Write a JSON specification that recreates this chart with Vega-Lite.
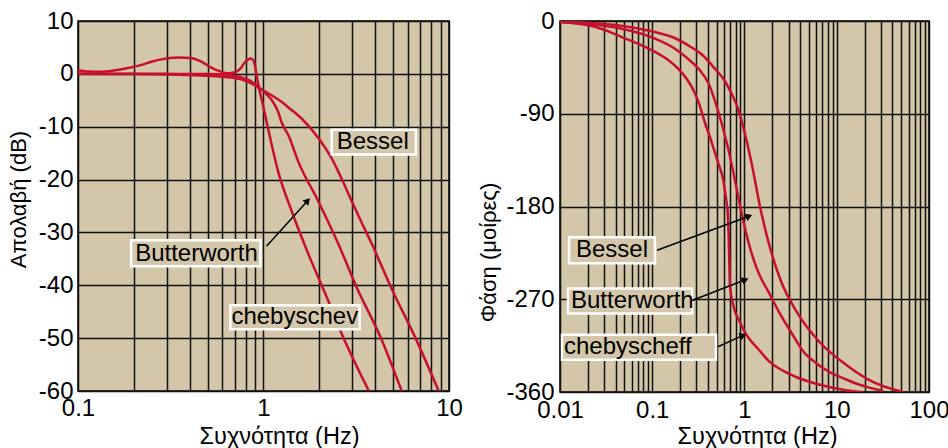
{
  "$schema": "https://vega.github.io/schema/vega-lite/v6.json",
  "padding": {"left": 6, "top": 8, "right": 0, "bottom": 0},
  "background": "white",
  "spacing": 12,
  "config": {
    "font": "Liberation Sans",
    "view": {"fill": "#d3c6a9", "stroke": "#000", "strokeWidth": 1.5},
    "axis": {
      "grid": true, "gridColor": "#111", "gridOpacity": 1, "gridWidth": 1.5,
      "domain": false, "ticks": false, "tickSize": 0,
      "labelFontSize": 24, "labelColor": "#000", "labelFont": "Liberation Sans",
      "titleFontSize": 22, "titleFontWeight": "normal", "titleColor": "#000", "titleFont": "Liberation Sans",
      "labelFlush": false, "labelOverlap": false
    },
    "axisX": {"titleFontSize": 23.5}
  },
  "datasets": {
    "mag": [
      {"curve": "Chebyshev", "f": 0.1, "db": 0.7},
      {"curve": "Chebyshev", "f": 0.115, "db": 0.45},
      {"curve": "Chebyshev", "f": 0.13, "db": 0.4},
      {"curve": "Chebyshev", "f": 0.16, "db": 0.7},
      {"curve": "Chebyshev", "f": 0.186, "db": 1.1},
      {"curve": "Chebyshev", "f": 0.22, "db": 1.7},
      {"curve": "Chebyshev", "f": 0.248, "db": 2.3},
      {"curve": "Chebyshev", "f": 0.3, "db": 2.9},
      {"curve": "Chebyshev", "f": 0.347, "db": 3.1},
      {"curve": "Chebyshev", "f": 0.408, "db": 3.0},
      {"curve": "Chebyshev", "f": 0.45, "db": 2.5},
      {"curve": "Chebyshev", "f": 0.485, "db": 1.9},
      {"curve": "Chebyshev", "f": 0.53, "db": 1.1},
      {"curve": "Chebyshev", "f": 0.57, "db": 0.6},
      {"curve": "Chebyshev", "f": 0.65, "db": 0.1},
      {"curve": "Chebyshev", "f": 0.7, "db": 0.3},
      {"curve": "Chebyshev", "f": 0.75, "db": 1.0},
      {"curve": "Chebyshev", "f": 0.8, "db": 2.3},
      {"curve": "Chebyshev", "f": 0.85, "db": 2.9},
      {"curve": "Chebyshev", "f": 0.88, "db": 2.6},
      {"curve": "Chebyshev", "f": 0.9, "db": 1.6},
      {"curve": "Chebyshev", "f": 0.92, "db": -0.5},
      {"curve": "Chebyshev", "f": 0.95, "db": -3},
      {"curve": "Chebyshev", "f": 0.98, "db": -5},
      {"curve": "Chebyshev", "f": 1.04, "db": -9.1},
      {"curve": "Chebyshev", "f": 1.1, "db": -13},
      {"curve": "Chebyshev", "f": 1.2, "db": -18.5},
      {"curve": "Chebyshev", "f": 1.42, "db": -26},
      {"curve": "Chebyshev", "f": 1.75, "db": -34.2},
      {"curve": "Chebyshev", "f": 2.16, "db": -41.7},
      {"curve": "Chebyshev", "f": 2.65, "db": -49.3},
      {"curve": "Chebyshev", "f": 3.7, "db": -60},
      {"curve": "Butterworth", "f": 0.1, "db": 0},
      {"curve": "Butterworth", "f": 0.3, "db": 0},
      {"curve": "Butterworth", "f": 0.5, "db": -0.05},
      {"curve": "Butterworth", "f": 0.65, "db": -0.2},
      {"curve": "Butterworth", "f": 0.75, "db": -0.6},
      {"curve": "Butterworth", "f": 0.85, "db": -1.3},
      {"curve": "Butterworth", "f": 0.94, "db": -2.5},
      {"curve": "Butterworth", "f": 1.02, "db": -3.6},
      {"curve": "Butterworth", "f": 1.11, "db": -5},
      {"curve": "Butterworth", "f": 1.2, "db": -7.2},
      {"curve": "Butterworth", "f": 1.25, "db": -9.1},
      {"curve": "Butterworth", "f": 1.37, "db": -11.8},
      {"curve": "Butterworth", "f": 1.54, "db": -16.6},
      {"curve": "Butterworth", "f": 1.98, "db": -24.2},
      {"curve": "Butterworth", "f": 2.54, "db": -32.3},
      {"curve": "Butterworth", "f": 3.2, "db": -40.6},
      {"curve": "Butterworth", "f": 4.3, "db": -50},
      {"curve": "Butterworth", "f": 5.56, "db": -60},
      {"curve": "Bessel", "f": 0.1, "db": 0},
      {"curve": "Bessel", "f": 0.2, "db": -0.05},
      {"curve": "Bessel", "f": 0.3, "db": -0.1},
      {"curve": "Bessel", "f": 0.4, "db": -0.2},
      {"curve": "Bessel", "f": 0.5, "db": -0.35},
      {"curve": "Bessel", "f": 0.6, "db": -0.55},
      {"curve": "Bessel", "f": 0.7, "db": -0.8},
      {"curve": "Bessel", "f": 0.8, "db": -1.3},
      {"curve": "Bessel", "f": 0.9, "db": -2.2},
      {"curve": "Bessel", "f": 0.98, "db": -3.0},
      {"curve": "Bessel", "f": 1.1, "db": -4},
      {"curve": "Bessel", "f": 1.25, "db": -5.3},
      {"curve": "Bessel", "f": 1.4, "db": -6.7},
      {"curve": "Bessel", "f": 1.6, "db": -8.4},
      {"curve": "Bessel", "f": 1.98, "db": -12.2},
      {"curve": "Bessel", "f": 2.33, "db": -16},
      {"curve": "Bessel", "f": 2.65, "db": -20},
      {"curve": "Bessel", "f": 3.0, "db": -24.2},
      {"curve": "Bessel", "f": 3.4, "db": -28.3},
      {"curve": "Bessel", "f": 3.85, "db": -32.3},
      {"curve": "Bessel", "f": 4.9, "db": -40.6},
      {"curve": "Bessel", "f": 6.6, "db": -50},
      {"curve": "Bessel", "f": 8.8, "db": -60}
    ],
    "phase": [
      {"curve": "Chebyshev", "f": 0.01, "deg": -1},
      {"curve": "Chebyshev", "f": 0.015, "deg": -2.5},
      {"curve": "Chebyshev", "f": 0.0203, "deg": -4.2},
      {"curve": "Chebyshev", "f": 0.03, "deg": -8.5},
      {"curve": "Chebyshev", "f": 0.0467, "deg": -15.6},
      {"curve": "Chebyshev", "f": 0.07, "deg": -22},
      {"curve": "Chebyshev", "f": 0.107, "deg": -30},
      {"curve": "Chebyshev", "f": 0.15, "deg": -38},
      {"curve": "Chebyshev", "f": 0.192, "deg": -46.5},
      {"curve": "Chebyshev", "f": 0.24, "deg": -57},
      {"curve": "Chebyshev", "f": 0.29, "deg": -70},
      {"curve": "Chebyshev", "f": 0.33, "deg": -83},
      {"curve": "Chebyshev", "f": 0.37, "deg": -98},
      {"curve": "Chebyshev", "f": 0.42, "deg": -112},
      {"curve": "Chebyshev", "f": 0.46, "deg": -123},
      {"curve": "Chebyshev", "f": 0.52, "deg": -138},
      {"curve": "Chebyshev", "f": 0.59, "deg": -155},
      {"curve": "Chebyshev", "f": 0.63, "deg": -172},
      {"curve": "Chebyshev", "f": 0.66, "deg": -188},
      {"curve": "Chebyshev", "f": 0.675, "deg": -210},
      {"curve": "Chebyshev", "f": 0.685, "deg": -235},
      {"curve": "Chebyshev", "f": 0.695, "deg": -256},
      {"curve": "Chebyshev", "f": 0.757, "deg": -276},
      {"curve": "Chebyshev", "f": 0.89, "deg": -292},
      {"curve": "Chebyshev", "f": 1.06, "deg": -305},
      {"curve": "Chebyshev", "f": 1.4, "deg": -318},
      {"curve": "Chebyshev", "f": 1.89, "deg": -331},
      {"curve": "Chebyshev", "f": 2.7, "deg": -340},
      {"curve": "Chebyshev", "f": 3.67, "deg": -345.7},
      {"curve": "Chebyshev", "f": 5.5, "deg": -351},
      {"curve": "Chebyshev", "f": 8.5, "deg": -355.4},
      {"curve": "Chebyshev", "f": 13, "deg": -358.5},
      {"curve": "Chebyshev", "f": 19, "deg": -360},
      {"curve": "Butterworth", "f": 0.01, "deg": -1},
      {"curve": "Butterworth", "f": 0.02, "deg": -3},
      {"curve": "Butterworth", "f": 0.0467, "deg": -7.5},
      {"curve": "Butterworth", "f": 0.107, "deg": -17},
      {"curve": "Butterworth", "f": 0.17, "deg": -26},
      {"curve": "Butterworth", "f": 0.246, "deg": -37},
      {"curve": "Butterworth", "f": 0.33, "deg": -48},
      {"curve": "Butterworth", "f": 0.405, "deg": -60},
      {"curve": "Butterworth", "f": 0.48, "deg": -78},
      {"curve": "Butterworth", "f": 0.56, "deg": -98},
      {"curve": "Butterworth", "f": 0.67, "deg": -125},
      {"curve": "Butterworth", "f": 0.79, "deg": -155},
      {"curve": "Butterworth", "f": 0.97, "deg": -194},
      {"curve": "Butterworth", "f": 1.24, "deg": -230},
      {"curve": "Butterworth", "f": 1.48, "deg": -248},
      {"curve": "Butterworth", "f": 1.75, "deg": -260},
      {"curve": "Butterworth", "f": 2.42, "deg": -284},
      {"curve": "Butterworth", "f": 3.2, "deg": -302},
      {"curve": "Butterworth", "f": 4.36, "deg": -321},
      {"curve": "Butterworth", "f": 6, "deg": -332},
      {"curve": "Butterworth", "f": 8.5, "deg": -341},
      {"curve": "Butterworth", "f": 12, "deg": -347},
      {"curve": "Butterworth", "f": 16.5, "deg": -352},
      {"curve": "Butterworth", "f": 22, "deg": -355.5},
      {"curve": "Butterworth", "f": 32, "deg": -359},
      {"curve": "Bessel", "f": 0.01, "deg": -0.5},
      {"curve": "Bessel", "f": 0.05, "deg": -5},
      {"curve": "Bessel", "f": 0.107, "deg": -10.7},
      {"curve": "Bessel", "f": 0.17, "deg": -16},
      {"curve": "Bessel", "f": 0.246, "deg": -23.7},
      {"curve": "Bessel", "f": 0.35, "deg": -33},
      {"curve": "Bessel", "f": 0.48, "deg": -46.5},
      {"curve": "Bessel", "f": 0.6, "deg": -57},
      {"curve": "Bessel", "f": 0.72, "deg": -70},
      {"curve": "Bessel", "f": 0.85, "deg": -85},
      {"curve": "Bessel", "f": 0.97, "deg": -103},
      {"curve": "Bessel", "f": 1.2, "deg": -139},
      {"curve": "Bessel", "f": 1.48, "deg": -181},
      {"curve": "Bessel", "f": 1.89, "deg": -220},
      {"curve": "Bessel", "f": 2.5, "deg": -253},
      {"curve": "Bessel", "f": 3.67, "deg": -282},
      {"curve": "Bessel", "f": 6.5, "deg": -311.5},
      {"curve": "Bessel", "f": 12.8, "deg": -334},
      {"curve": "Bessel", "f": 25, "deg": -350.5},
      {"curve": "Bessel", "f": 52, "deg": -360}
    ],
    "magLabels": [
      {"name": "Bessel", "tx": 2.481, "ty": -12.9, "x0": 2.332, "x1": 6.63, "y0": -10.57, "y1": -15.28},
      {"name": "Butterworth", "tx": 0.2033, "ty": -34.0, "x0": 0.1934, "x1": 0.963, "y0": -31.5, "y1": -36.4},
      {"name": "chebyschev", "tx": 0.6714, "ty": -46.0, "x0": 0.663, "x1": 3.3, "y0": -43.8, "y1": -48.3}
    ],
    "magArrows": [
      {"name": "Butterworth", "x0": 1.038, "y0": -32.6, "x1": 1.73, "y1": -24.0}
    ],
    "phaseLabels": [
      {"name": "Bessel", "tx": 0.0149, "ty": -222.4, "x0": 0.01252, "x1": 0.1071, "y0": -209.8, "y1": -235.1},
      {"name": "Butterworth", "tx": 0.01316, "ty": -271.7, "x0": 0.01221, "x1": 0.2697, "y0": -259.5, "y1": -283.9},
      {"name": "chebyscheff", "tx": 0.01105, "ty": -316.6, "x0": 0.01051, "x1": 0.491, "y0": -304.4, "y1": -328.8}
    ],
    "phaseArrows": [
      {"name": "Bessel", "x0": 0.1126, "y0": -222.4, "x1": 1.119, "y1": -189.4},
      {"name": "Butterworth", "x0": 0.2697, "y0": -271.2, "x1": 1.02, "y1": -251.1},
      {"name": "chebyscheff", "x0": 0.516, "y0": -316.1, "x1": 0.963, "y1": -305.1}
    ]
  },
  "hconcat": [
    {
      "width": 371,
      "height": 370,
      "layer": [
        {
          "data": {"name": "mag"},
          "mark": {"type": "line", "color": "#c8102e", "strokeWidth": 2.5, "interpolate": "monotone", "clip": true},
          "encoding": {
            "x": {
              "field": "f", "type": "quantitative",
              "scale": {"type": "log", "domain": [0.1, 10], "nice": false},
              "axis": {
                "title": "Συχνότητα (Hz)",
                "values": [0.1, 0.2, 0.3, 0.4, 0.5, 0.6, 0.7, 0.8, 0.9, 1, 2, 3, 4, 5, 6, 7, 8, 9, 10],
                "labelExpr": "datum.value == 0.1 ? '0.1' : datum.value == 1 ? '1' : datum.value == 10 ? '10' : ''",
                "labelPadding": 5, "titlePadding": 4, "titleX": 201
              }
            },
            "y": {
              "field": "db", "type": "quantitative",
              "scale": {"domain": [-60, 10], "nice": false},
              "axis": {
                "title": "Απολαβή (dB)",
                "values": [-60, -50, -40, -30, -20, -10, 0, 10],
                "labelExpr": "'' + datum.value",
                "labelPadding": 5, "titlePadding": 4, "minExtent": 44, "maxExtent": 44, "titleY": 178
              }
            },
            "detail": {"field": "curve"}
          }
        },
        {
          "data": {"name": "magLabels"},
          "mark": {"type": "rect", "fill": "#d3c6a9", "stroke": "white", "strokeWidth": 2.5},
          "encoding": {
            "x": {"field": "x0", "type": "quantitative"},
            "x2": {"field": "x1"},
            "y": {"field": "y0", "type": "quantitative"},
            "y2": {"field": "y1"}
          }
        },
        {
          "data": {"name": "magLabels"},
          "mark": {"type": "text", "align": "left", "baseline": "middle", "fontSize": 24, "color": "#000", "font": "Liberation Sans"},
          "encoding": {
            "x": {"field": "tx", "type": "quantitative"},
            "y": {"field": "ty", "type": "quantitative"},
            "text": {"field": "name"}
          }
        },
        {
          "data": {"name": "magArrows"},
          "mark": {"type": "rule", "color": "#000", "strokeWidth": 1.5},
          "encoding": {
            "x": {"field": "x0", "type": "quantitative"},
            "y": {"field": "y0", "type": "quantitative"},
            "x2": {"field": "x1"},
            "y2": {"field": "y1"}
          }
        },
        {
          "data": {"name": "magArrows"},
          "mark": {"type": "point", "shape": "triangle-up", "filled": true, "size": 60, "angle": 42, "color": "#000", "opacity": 1},
          "encoding": {
            "x": {"field": "x1", "type": "quantitative"},
            "y": {"field": "y1", "type": "quantitative"}
          }
        }
      ]
    },
    {
      "width": 369,
      "height": 371,
      "layer": [
        {
          "data": {"name": "phase"},
          "mark": {"type": "line", "color": "#c8102e", "strokeWidth": 2.5, "interpolate": "monotone", "clip": true},
          "encoding": {
            "x": {
              "field": "f", "type": "quantitative",
              "scale": {"type": "log", "domain": [0.01, 100], "nice": false},
              "axis": {
                "title": "Συχνότητα (Hz)",
                "values": [0.01, 0.02, 0.03, 0.04, 0.05, 0.06, 0.07, 0.08, 0.09, 0.1, 0.2, 0.3, 0.4, 0.5, 0.6, 0.7, 0.8, 0.9, 1, 2, 3, 4, 5, 6, 7, 8, 9, 10, 20, 30, 40, 50, 60, 70, 80, 90, 100],
                "labelExpr": "datum.value == 0.01 ? '0.01' : datum.value == 0.1 ? '0.1' : datum.value == 1 ? '1' : datum.value == 10 ? '10' : datum.value == 100 ? '100' : ''",
                "labelPadding": 6, "titlePadding": 2, "titleX": 197
              }
            },
            "y": {
              "field": "deg", "type": "quantitative",
              "scale": {"domain": [-360, 0], "nice": false},
              "axis": {
                "title": "Φάση (μοίρες)",
                "values": [-360, -270, -180, -90, 0],
                "labelExpr": "'' + datum.value",
                "labelPadding": 6, "titlePadding": 4, "minExtent": 56, "maxExtent": 56, "titleY": 231
              }
            },
            "detail": {"field": "curve"}
          }
        },
        {
          "data": {"name": "phaseLabels"},
          "mark": {"type": "rect", "fill": "#d3c6a9", "stroke": "white", "strokeWidth": 2.5},
          "encoding": {
            "x": {"field": "x0", "type": "quantitative"},
            "x2": {"field": "x1"},
            "y": {"field": "y0", "type": "quantitative"},
            "y2": {"field": "y1"}
          }
        },
        {
          "data": {"name": "phaseLabels"},
          "mark": {"type": "text", "align": "left", "baseline": "middle", "fontSize": 24, "color": "#000", "font": "Liberation Sans"},
          "encoding": {
            "x": {"field": "tx", "type": "quantitative"},
            "y": {"field": "ty", "type": "quantitative"},
            "text": {"field": "name"}
          }
        },
        {
          "data": {"name": "phaseArrows"},
          "mark": {"type": "rule", "color": "#000", "strokeWidth": 1.5},
          "encoding": {
            "x": {"field": "x0", "type": "quantitative"},
            "y": {"field": "y0", "type": "quantitative"},
            "x2": {"field": "x1"},
            "y2": {"field": "y1"}
          }
        },
        {
          "data": {"name": "phaseArrows"},
          "mark": {"type": "point", "shape": "triangle-up", "filled": true, "size": 60, "angle": 68, "color": "#000", "opacity": 1},
          "encoding": {
            "x": {"field": "x1", "type": "quantitative"},
            "y": {"field": "y1", "type": "quantitative"}
          }
        }
      ]
    }
  ]
}
